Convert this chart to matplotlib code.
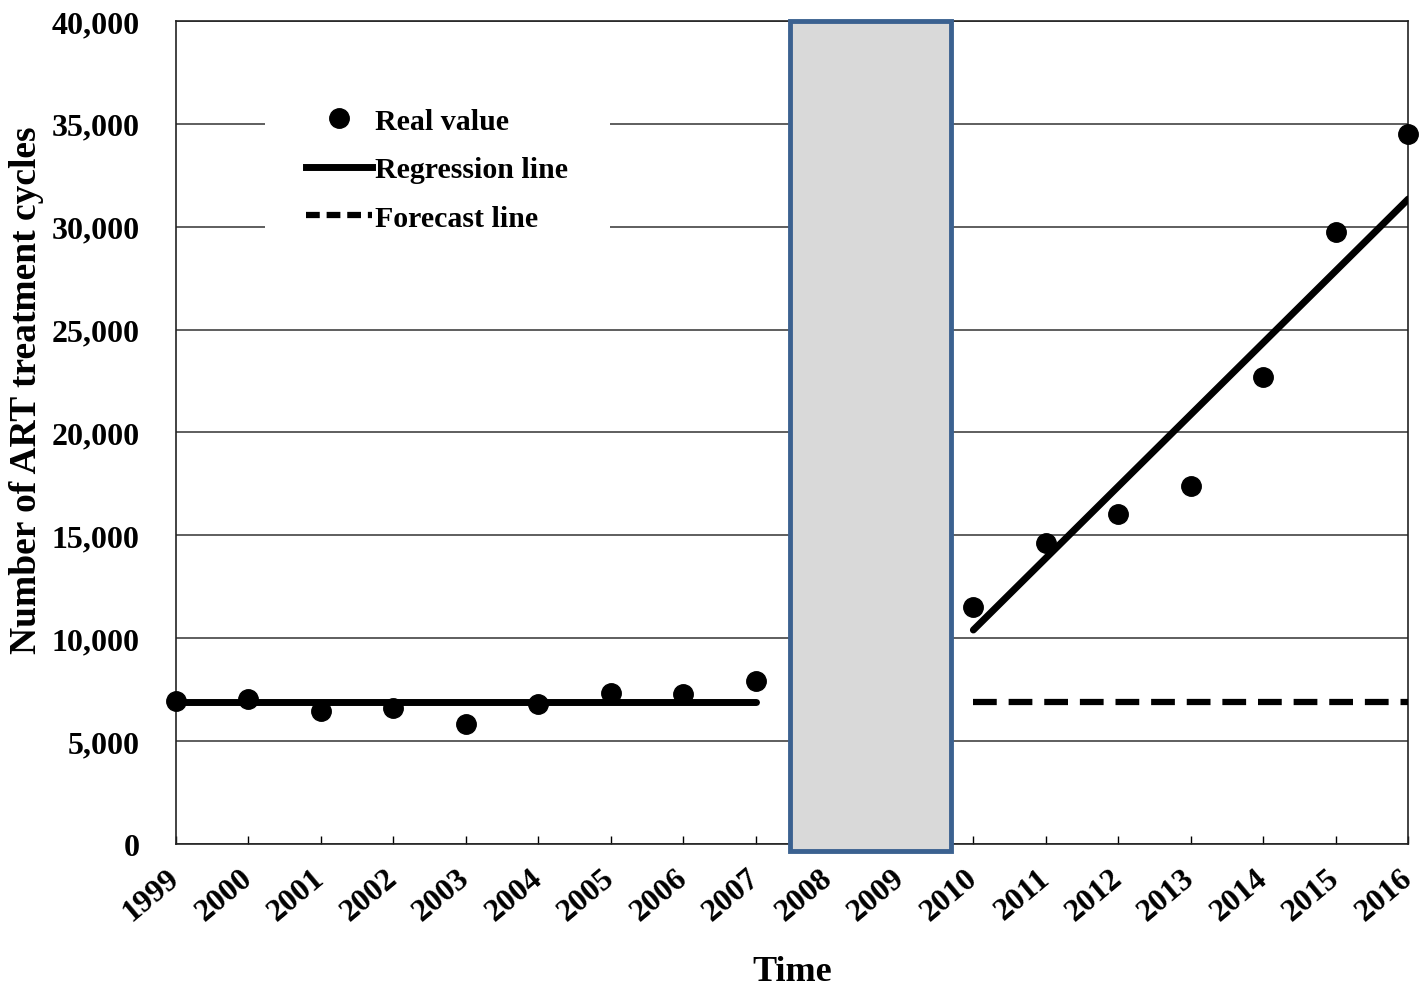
import matplotlib
matplotlib.use('agg')
import matplotlib.pyplot as plt
from matplotlib.patches import Rectangle
from matplotlib.lines import Line2D

plt.rcParams['font.family'] = ['Liberation Serif', 'DejaVu Serif']
plt.rcParams['font.weight'] = 'bold'

years = list(range(1999, 2017))
years_before = [1999, 2000, 2001, 2002, 2003, 2004, 2005, 2006, 2007]
real_before = [6950, 7050, 6460, 6610, 5830, 6800, 7340, 7290, 7920]
years_after = [2010, 2011, 2012, 2013, 2014, 2015, 2016]
real_after = [11520, 14630, 16040, 17400, 22700, 29740, 34500]

# regression / forecast endpoints
reg_before_x = [1999, 2007]
reg_before_y = [6900, 6900]
reg_after_x = [2010, 2016]
reg_after_y = [10400, 31350]
forecast_x = [2010, 2016]
forecast_y = [6900, 6900]

# shaded gap period
gap_start, gap_end = 2007.47, 2009.69

fig = plt.figure(figsize=(14.28, 9.87), dpi=100)
ax = fig.add_axes([0.1232, 0.1439, 0.8630, 0.8338])

ax.set_xlim(1999, 2016)
ax.set_ylim(0, 40000)
ax.set_yticks(range(0, 40001, 5000))
ax.set_yticklabels([f'{v:,}' for v in range(0, 40001, 5000)], fontsize=23, fontweight='bold')
ax.set_xticks(years)
ax.set_xticklabels([str(y) for y in years], fontsize=23, fontweight='bold',
                   rotation=40, ha='right', va='center', rotation_mode='anchor')
ax.tick_params(axis='x', direction='in', length=6, width=1, pad=22)
ax.tick_params(axis='y', length=0, pad=26)
ax.yaxis.grid(True, color='#333333', lw=1.1)
ax.set_axisbelow(True)
for s in ax.spines.values():
    s.set_color('#222222')
    s.set_linewidth(1.2)

ax.plot(reg_before_x, reg_before_y, color='black', lw=5, solid_capstyle='round', zorder=3)
ax.plot(reg_after_x, reg_after_y, color='black', lw=5, solid_capstyle='round', zorder=3)
ax.plot(forecast_x, forecast_y, color='black', lw=4.5, dashes=(3.8, 1.9), zorder=3)
ax.plot(years_before, real_before, 'o', color='black', ms=14, clip_on=False, zorder=4)
ax.plot(years_after, real_after, 'o', color='black', ms=14, clip_on=False, zorder=4)

box = Rectangle((gap_start, -350), gap_end - gap_start, 40350, facecolor='#D9D9D9',
                edgecolor='#3B6190', lw=3.5, clip_on=False, zorder=5)
ax.add_patch(box)

# white patch behind the legend (hides the gridlines there)
ax.add_patch(Rectangle((0.072, 0.745), 0.28, 0.17, transform=ax.transAxes,
                       facecolor='white', edgecolor='none', zorder=1))

handles = [Line2D([], [], ls='none', marker='o', color='black', ms=14),
           Line2D([], [], color='black', lw=5),
           Line2D([], [], color='black', lw=4.5, dashes=(2.2, 1.1))]
leg = ax.legend(handles, ['Real value', 'Regression line', 'Forecast line'],
                loc='upper left', bbox_to_anchor=(0.096, 0.909), fontsize=21.5,
                frameon=False, handlelength=2.2, handletextpad=0.1,
                labelspacing=0.72, borderpad=0.4, borderaxespad=0)
for t in leg.get_texts():
    t.set_fontweight('bold')

ax.set_ylabel('Number of ART treatment cycles', fontsize=27, fontweight='bold')
ax.yaxis.set_label_coords(-0.107, 0.553)
ax.set_xlabel('Time', fontsize=26, fontweight='bold', labelpad=20)

fig.savefig('out.png', dpi=100)
